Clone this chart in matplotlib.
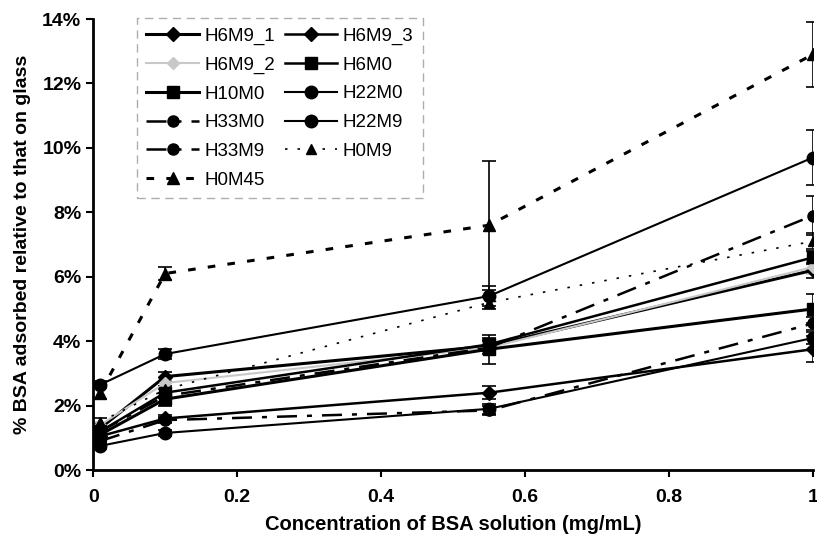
import matplotlib
matplotlib.use("Agg")
import matplotlib.pyplot as plt
from matplotlib.ticker import FuncFormatter

conc = [0.01, 0.1, 0.55, 1.0]

H6M9_1 = [1.3, 2.9, 3.85, 6.2]
H6M9_2 = [1.4, 2.7, 3.8, 6.3]
H6M9_3 = [1.05, 1.6, 2.4, 3.75]
H6M0 = [1.2, 2.4, 3.9, 6.6]
H10M0 = [1.1, 2.2, 3.75, 5.0]
H22M0 = [0.75, 1.15, 1.9, 4.1]
H33M0 = [0.9, 1.55, 1.85, 4.55]
H22M9 = [2.65, 3.6, 5.4, 9.7]
H33M9 = [1.2, 2.3, 3.8, 7.9]
H0M9 = [1.5, 2.5, 5.2, 7.1]
H0M45 = [2.4, 6.1, 7.6, 12.9]

E6M9_1 = [0.15, 0.15, 0.2, 0.25]
E6M9_2 = [0.1, 0.1, 0.15, 0.2]
E6M9_3 = [0.1, 0.1, 0.2, 0.4]
E6M0 = [0.1, 0.15, 0.2, 0.2]
E10M0 = [0.3, 0.2, 0.45, 0.45]
E22M0 = [0.1, 0.1, 0.15, 0.2]
E33M0 = [0.1, 0.1, 0.15, 0.2]
E22M9 = [0.1, 0.15, 0.3, 0.85]
E33M9 = [0.1, 0.2, 0.2, 0.6]
E0M9 = [0.1, 0.1, 0.2, 0.25]
E0M45 = [0.2, 0.2, 2.0, 1.0]

plt.rcParams['font.family'] = ['Liberation Sans', 'DejaVu Sans']

fig = plt.figure(figsize=(8.17, 5.44), dpi=100)
ax = fig.add_axes([0.114, 0.136, 0.881, 0.829])

series = [
    ("H6M9_1", H6M9_1, E6M9_1, dict(color='black', lw=2.2, ls='-', marker='D', ms=7)),
    ("H6M9_2", H6M9_2, E6M9_2, dict(color='#c8c8c8', lw=1.5, ls='-', marker='D', ms=6)),
    ("H10M0", H10M0, E10M0, dict(color='black', lw=2.2, ls='-', marker='s', ms=8)),
    ("H33M0", H33M0, E33M0, dict(color='black', lw=1.8, ls=(0, (8, 4, 2, 4)), marker='o', ms=8)),
    ("H33M9", H33M9, E33M9, dict(color='black', lw=1.8, ls=(0, (8, 4, 2, 4)), marker='o', ms=8)),
    ("H0M45", H0M45, E0M45, dict(color='black', lw=2.2, ls=(0, (2.5, 4)), marker='^', ms=8)),
    ("H6M9_3", H6M9_3, E6M9_3, dict(color='black', lw=1.8, ls='-', marker='D', ms=7)),
    ("H6M0", H6M0, E6M0, dict(color='black', lw=1.8, ls='-', marker='s', ms=8)),
    ("H22M0", H22M0, E22M0, dict(color='black', lw=1.5, ls='-', marker='o', ms=9)),
    ("H22M9", H22M9, E22M9, dict(color='black', lw=1.5, ls='-', marker='o', ms=9)),
    ("H0M9", H0M9, E0M9, dict(color='black', lw=1.2, ls=(0, (1.5, 6)), marker='^', ms=7)),
]

handles = []
for name, ys, es, st in series:
    cont = ax.errorbar(conc, ys, yerr=es, label=name, ecolor=st['color'], elinewidth=1.2,
                       capsize=5, capthick=1.2, markerfacecolor=st['color'],
                       markeredgecolor=st['color'], **st)
    handles.append(cont.lines[0])

ax.set_xlim(0, 1)
ax.set_ylim(0, 14)
ax.set_xticks([0, 0.2, 0.4, 0.6, 0.8, 1.0])
ax.set_yticks(range(0, 15, 2))
ax.xaxis.set_major_formatter(FuncFormatter(lambda v, p: f"{v:g}"))
ax.yaxis.set_major_formatter(FuncFormatter(lambda v, p: f"{int(v)}%"))
for lab in ax.get_xticklabels() + ax.get_yticklabels():
    lab.set_fontweight('bold')
    lab.set_fontsize(14)
ax.spines['top'].set_visible(False)
ax.spines['right'].set_visible(False)
ax.spines['left'].set_linewidth(2)
ax.spines['bottom'].set_linewidth(2)
ax.tick_params(axis='both', width=1.5, length=5, direction='out')
ax.tick_params(axis='x', pad=9)
ax.set_xlabel("Concentration of BSA solution (mg/mL)", fontsize=14.5, fontweight='bold', labelpad=6)
ax.set_ylabel("% BSA adsorbed relative to that on glass", fontsize=14, fontweight='bold', labelpad=8)

leg = ax.legend(handles=handles, labels=[s[0] for s in series], ncol=2, loc='upper left',
                bbox_to_anchor=(0.061, 1.002), borderaxespad=0, fontsize=13.5,
                frameon=True, fancybox=False, handlelength=2.8, columnspacing=0.5,
                labelspacing=0.62, borderpad=0.5, handletextpad=0.3)
leg.get_frame().set_edgecolor('#999999')
leg.get_frame().set_linestyle((0, (6, 4)))
leg.get_frame().set_linewidth(1.0)

fig.savefig("out.png", dpi=100)
